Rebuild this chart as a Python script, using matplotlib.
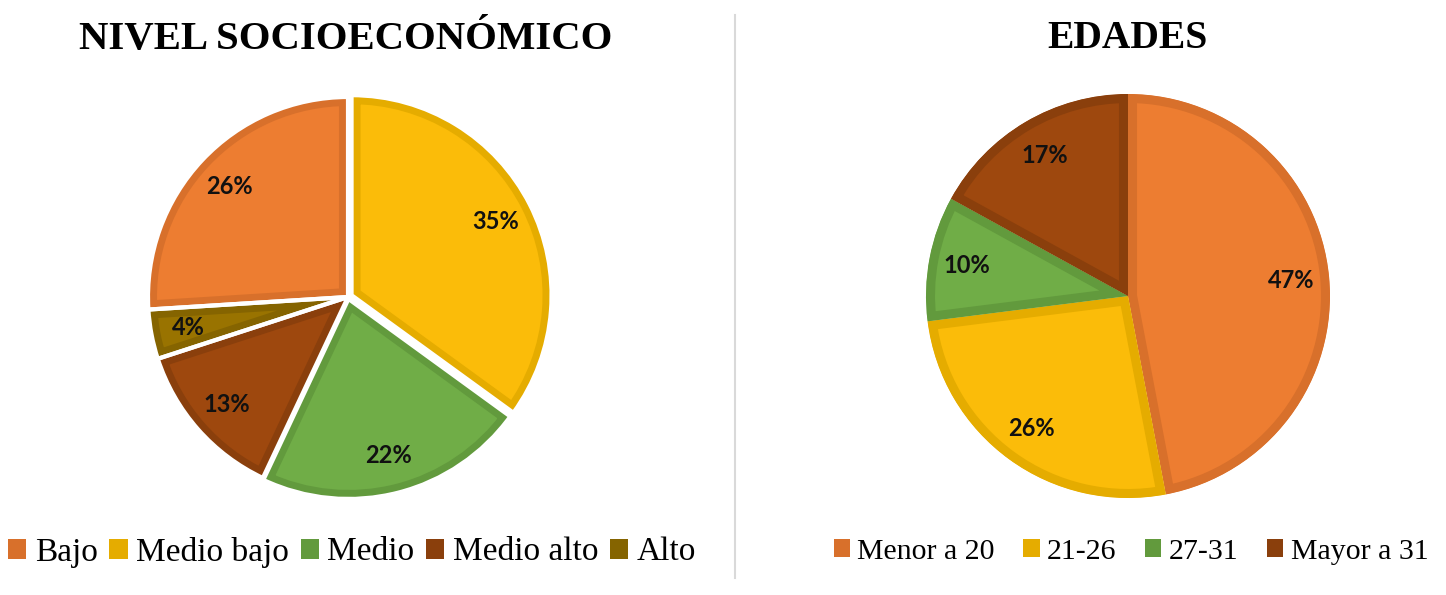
import matplotlib
matplotlib.use("Agg")
import matplotlib.pyplot as plt
from matplotlib.patches import Patch

# ---- data ----
nse_labels = ["Bajo", "Medio bajo", "Medio", "Medio alto", "Alto"]
nse_values = [26, 35, 22, 13, 4]
edad_labels = ["Menor a 20", "21-26", "27-31", "Mayor a 31"]
edad_values = [47, 26, 10, 17]
title_left = "NIVEL SOCIOECONÓMICO"
title_right = "EDADES"

# ---- styles ----
face = {"orange": "#ED7D31", "yellow": "#FBBC09", "green": "#70AD47",
        "brown": "#9E480E", "olive": "#997300"}
edge = {"orange": "#D8702B", "yellow": "#E5AC00", "green": "#629A3D",
        "brown": "#8A3F0C", "olive": "#856400"}
nse_keys = ["orange", "yellow", "green", "brown", "olive"]
edad_keys = ["orange", "yellow", "green", "brown"]
nse_explode = [0.0, 0.02, 0.01, 0.0, 0.0]

W, H = 1446, 595
fig = plt.figure(figsize=(W / 100, H / 100), dpi=100)
fig.patch.set_facecolor("white")

serif = ["Liberation Serif", "DejaVu Serif"]
lblfont = dict(family=["Lato", "DejaVu Sans"], weight="bold", size=17, color="#111111")

PAD = 1.06


def draw_pie(cx, cy, r, values, keys, startangle, explode, gap):
    rr = r * PAD
    ax = fig.add_axes([(cx - rr) / W, (H - cy - rr) / H, 2 * rr / W, 2 * rr / H])
    ax.axis("off")
    wedges, texts, autotexts = ax.pie(
        values, colors=[face[k] for k in keys], startangle=startangle,
        counterclock=False, explode=explode, radius=1.0,
        autopct=lambda p: f"{p:.0f}%", pctdistance=0.81,
        textprops=lblfont)
    for w, k in zip(wedges, keys):
        w.set_edgecolor(edge[k])
        w.set_linewidth(13)
        w.set_joinstyle("miter")
        w.set_clip_on(True)
        w.set_clip_path(w)
    for t in autotexts:
        t.set_zorder(5)
    if gap > 0:
        w2, _ = ax.pie(values, colors=["none"] * len(values), startangle=startangle,
                       counterclock=False, explode=explode, radius=1.0,
                       wedgeprops=dict(edgecolor="white", linewidth=gap, facecolor="none"))
        for w in w2:
            w.set_zorder(3)
    ax.set_xlim(-PAD, PAD)
    ax.set_ylim(-PAD, PAD)
    ax.set_aspect("equal")
    return ax


# left pie
start_left = 90 + 360 * nse_values[0] / sum(nse_values)
draw_pie(348, 297, 200, nse_values, nse_keys, start_left, nse_explode, 3.0)
# right pie
draw_pie(1128, 296, 202, edad_values, edad_keys, 90, [0] * len(edad_values), 0)

# titles
fig.text(346 / W, 1 - 39 / H, title_left, ha="center", va="center",
         family=serif, weight="bold", size=29.3)
fig.text(1127 / W, 1 - 39 / H, title_right, ha="center", va="center",
         family=serif, weight="bold", size=28.5)

# divider
fig.add_artist(plt.Line2D([735 / W, 735 / W], [1 - 15 / H, 1 - 578 / H],
                          color="#D9D9D9", linewidth=1.5))

# legends
h_left = [Patch(facecolor=edge[k], edgecolor="none") for k in nse_keys]
fig.legend(h_left, nse_labels, loc="center", bbox_to_anchor=(352 / W, 1 - 552 / H),
           ncol=len(nse_labels), frameon=False, prop=dict(family=serif, size=24),
           handlelength=0.55, handleheight=0.55, handletextpad=0.25,
           columnspacing=0.35, borderpad=0, borderaxespad=0)
h_right = [Patch(facecolor=edge[k], edgecolor="none") for k in edad_keys]
fig.legend(h_right, edad_labels, loc="center", bbox_to_anchor=(1131 / W, 1 - 552 / H),
           ncol=len(edad_labels), frameon=False, prop=dict(family=serif, size=21.5),
           handlelength=0.55, handleheight=0.55, handletextpad=0.25,
           columnspacing=0.95, borderpad=0, borderaxespad=0)

fig.savefig("out.png", dpi=100, facecolor="white")
